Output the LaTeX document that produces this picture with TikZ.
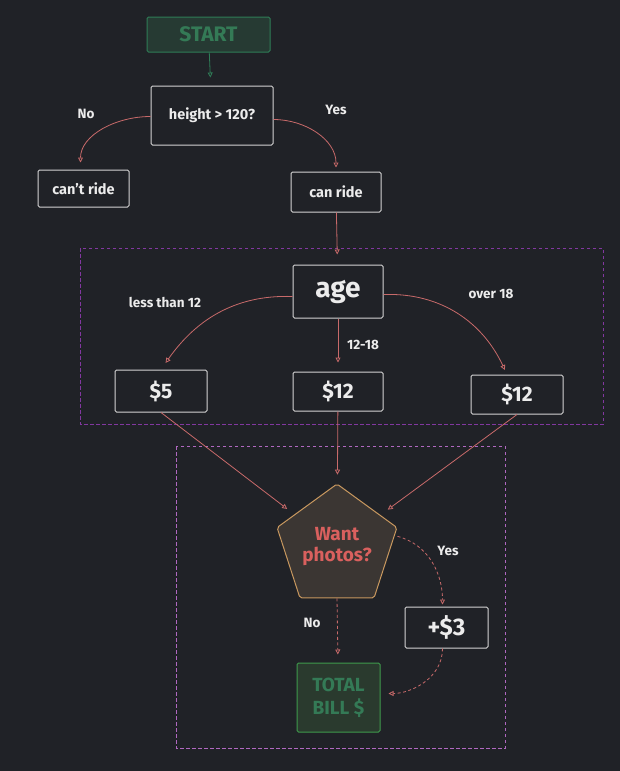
\documentclass[tikz,border=0pt]{standalone}
\usepackage{fontspec}
\setmainfont{Fira Sans}
\usetikzlibrary{arrows.meta,shapes.geometric}
\definecolor{bg}{HTML}{202227}
\definecolor{boxline}{HTML}{D4D4D4}
\definecolor{boxtext}{HTML}{ECECEC}
\definecolor{arrred}{HTML}{C86A6A}
\definecolor{gline}{HTML}{2F7D57}
\definecolor{gfill}{HTML}{263A33}
\definecolor{gtext}{HTML}{347A56}
\definecolor{tline}{HTML}{3F9A4C}
\definecolor{tfill}{HTML}{2A3A2E}
\definecolor{pfill}{HTML}{3B3633}
\definecolor{pline}{HTML}{C8985F}
\definecolor{ptext}{HTML}{D9605E}
\definecolor{grpa}{HTML}{8238A0}
\definecolor{grpb}{HTML}{B068C0}
\newcommand{\fsz}[1]{\fontsize{#1}{#1}\selectfont}
\begin{document}
\begin{tikzpicture}
          [x=1pt,y=-1pt,
           every node/.style={draw=boxline, rectangle, rounded corners=1.5pt, line width=1pt, text=boxtext, inner sep=0pt, font=\bfseries\fsz{14.5}},
           lbl/.style={draw=none, font=\bfseries\fsz{13.5}},
           arr/.style={draw=arrred, line width=0.8pt, -{Triangle[open,length=5pt,width=5pt]}},
           darr/.style={arr, dash pattern=on 3pt off 2.5pt},
           grp/.style={dash pattern=on 3.5pt off 2.5pt, line width=0.9pt}]
        \fill[bg] (0,0) rectangle (620,771);

        % groups
        \draw[grp, grpa] (80,248) rectangle (603,424);
        \draw[grp, grpb] (176,446) rectangle (505,748);

        \node[draw=gline, fill=gfill, text=gtext, font=\bfseries\fsz{21}, minimum width=123pt, minimum height=35pt] (start) at (208.5,34.5) {START};
        \node[minimum width=122pt, minimum height=59pt] (height) at (212,115.5) {height > 120?};
        \node[minimum width=91pt, minimum height=37pt] (cantride) at (83.5,188.5) {can't ride};
        \node[minimum width=90pt, minimum height=40pt] (canride) at (336,192) {can ride};
        \node[font=\bfseries\fsz{28}, minimum width=90pt, minimum height=53pt] (age) at (338,291.5) {\raisebox{-4pt}{age}};
        \node[font=\bfseries\fsz{21}, minimum width=92pt, minimum height=42pt] (p5) at (161,391) {\$5};
        \node[font=\bfseries\fsz{21}, minimum width=90pt, minimum height=39pt] (p12) at (338,391.5) {\$12};
        \node[font=\bfseries\fsz{21}, minimum width=92pt, minimum height=39pt] (p12b) at (517,394.5) {\$12};
        \node[regular polygon, regular polygon sides=5, rounded corners=2pt, draw=pline, fill=pfill, text=ptext, font=\bfseries\fsz{19}, align=center, minimum size=126pt] (photos) at (337,547) {Want\\[2pt]photos?};
        \node[font=\bfseries\fsz{24}, minimum width=83pt, minimum height=41pt] (plus3) at (446.5,627.5) {+\$3};
        \node[draw=tline, fill=tfill, text=gtext, font=\bfseries\fsz{19}, align=center, minimum width=83pt, minimum height=69pt] (total) at (338.5,697.5) {TOTAL\\[4pt]BILL \$};

        % labels
        \node[lbl] (lno) at (86,114) {No};
        \node[lbl] (lyes) at (336,110) {Yes};
        \node[lbl] (llt) at (165,302) {less than 12};
        \node[lbl] (lmid) at (363,345) {12-18};
        \node[lbl] (lover) at (491,294) {over 18};
        \node[lbl] (lyes2) at (448,551) {Yes};
        \node[lbl] (lno2) at (312,623) {No};

        \draw[arr, draw=gline, shorten >=8pt] (start) -- (height);
        \foreach \from/\to/\gap in {canride/age/10pt, age/p12/9pt, p12/photos/9pt}
          \draw[arr, shorten >=\gap] (\from) -- (\to);
        \foreach \from/\to in {p5.south/photos, p12b.south/photos}
          \draw[arr, shorten >=9pt] (\from) -- (\to);
        \draw[darr, shorten >=8pt] (photos.south) -- (total);

        \draw[arr, shorten >=7pt] ([yshift=-1pt]height.west) to[out=180, in=90] ([xshift=-3pt]cantride.north);
        \draw[arr, shorten >=4pt] ([yshift=-4pt]height.east) to[out=0, in=90] (canride.north);
        \draw[arr, shorten >=8pt] ([yshift=-5pt]age.west) to[out=178, in=55] (p5.north);
        \draw[arr, shorten >=5pt] ([yshift=-3pt]age.east) to[out=2, in=115] ([xshift=-10pt]p12b.north);
        \draw[darr, shorten >=2pt] ([yshift=-9pt]photos.corner 5) to[out=-15, in=90] ([xshift=-4pt]plus3.north);
        \draw[darr, shorten >=8pt] ([xshift=-4pt]plus3.south) to[out=-90, in=0] ([yshift=4pt]total.east);
      \end{tikzpicture}
\end{document}
